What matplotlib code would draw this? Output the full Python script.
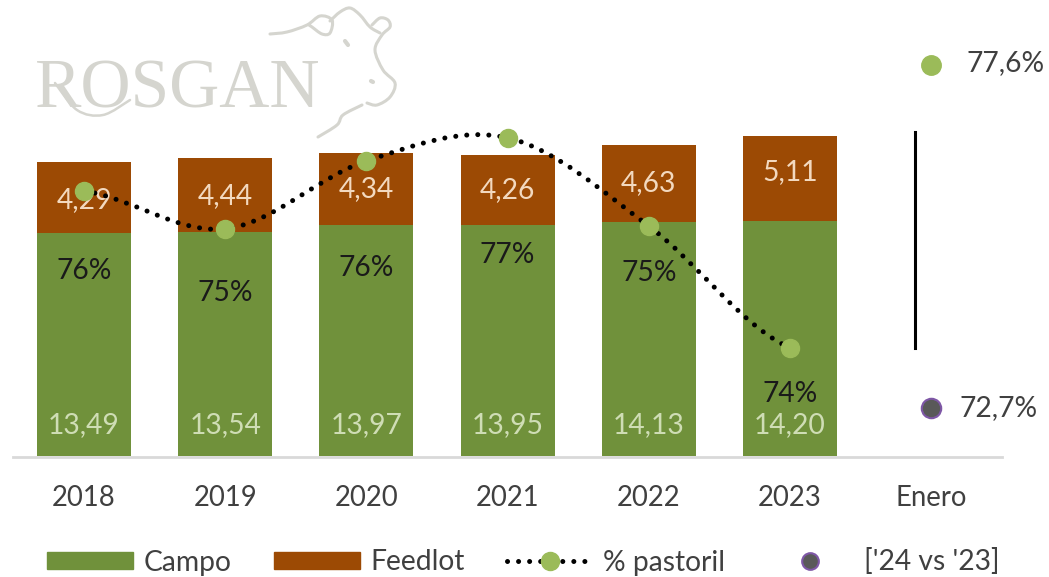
import matplotlib
matplotlib.use("Agg")
import matplotlib.pyplot as plt
from matplotlib.lines import Line2D
from matplotlib.patches import Patch, PathPatch
from matplotlib.path import Path
from matplotlib.transforms import Affine2D

W, H = 1049, 577
DARK = "#404040"
FS = 20.3

years = ["2018", "2019", "2020", "2021", "2022", "2023"]
tick_labels = years + ["Enero"]
campo = [13.49, 13.54, 13.97, 13.95, 14.13, 14.20]
feedlot = [4.29, 4.44, 4.34, 4.26, 4.63, 5.11]
pastoril = [75.8, 75.26, 76.23, 76.56, 75.3, 73.56]
pct_labels = ["76%", "75%", "76%", "77%", "75%", "74%"]
# label heights on the left scale
pct_label_y = [11.2, 9.85, 11.35, 12.15, 11.05, 3.75]
feedlot_label_shift = [-0.15, -0.05, 0, 0, 0.05, 0.4]
enero_top = 77.6
enero_bottom = 72.7

plt.rcParams["font.family"] = ["Lato", "DejaVu Sans"]

fig = plt.figure(figsize=(W / 100, H / 100), dpi=100)
ax = fig.add_axes([13.4 / W, (H - 456) / H, 988.4 / W, 456 / H])
ax.patch.set_alpha(0)
x = list(range(len(years)))
width = 94 / 141.2
ax.bar(x, campo, width, color="#70913B")
ax.bar(x, feedlot, width, bottom=campo, color="#9C4A04")
ax.set_xlim(-0.5, 6.5)
ax.set_ylim(0, 27.55)
ax.set_yticks([])
ax.set_xticks(range(len(tick_labels)), tick_labels)
ax.tick_params(axis="x", length=0, pad=21, labelsize=19.8, labelcolor=DARK)
for s in ["top", "left", "right", "bottom"]:
    ax.spines[s].set_visible(False)
ax.plot([-0.5, 6.5], [-0.05, -0.05], color="#D9D9D9", lw=2, clip_on=False, zorder=1)

for i in x:
    ax.text(i, 1.9, f"{campo[i]:.2f}".replace(".", ","), ha="center", va="center",
            color="#CFDDB5", fontsize=FS)
    ax.text(i, campo[i] + feedlot[i] / 2 + feedlot_label_shift[i],
            f"{feedlot[i]:.2f}".replace(".", ","), ha="center", va="center",
            color="#F3D9BF", fontsize=FS)
    ax.text(i, pct_label_y[i], pct_labels[i], ha="center", va="center",
            color="#1A1A1A", fontsize=FS)

ax2 = ax.twinx()
ax2.set_ylim(72.014, 78.53)
ax2.axis("off")

# smoothed line like the spreadsheet draws it
verts = [(x[0], pastoril[0])]
codes = [Path.MOVETO]
for i in range(len(x) - 1):
    y0 = pastoril[max(i - 1, 0)]
    y1 = pastoril[i]
    y2 = pastoril[i + 1]
    y3 = pastoril[min(i + 2, len(x) - 1)]
    verts += [(i + 1 / 3, y1 + (y2 - y0) / 6), (i + 2 / 3, y2 - (y3 - y1) / 6), (i + 1, y2)]
    codes += [Path.CURVE4] * 3
ax2.add_patch(PathPatch(Path(verts, codes), fill=False, edgecolor="black", lw=3.6,
                        linestyle=(0, (0.01, 2.2)), capstyle="round"))
ax2.plot(x, pastoril, ls="none", marker="o", ms=13, mfc="#9BBB59", mec="#9BBB59")

ax2.plot([5.885, 5.885], [76.65, 73.56], color="black", lw=2.2)
ax2.plot([6], [enero_top], ls="none", marker="o", ms=14, mfc="#9BBB59", mec="#9BBB59")
ax2.plot([6], [enero_bottom], ls="none", marker="o", ms=14, mfc="#595959", mec="#7E57A6", mew=1.5)
ax2.text(6.25, enero_top + 0.03, "77,6%", va="center", color=DARK, fontsize=FS)
ax2.text(6.2, enero_bottom, "72,7%", va="center", color=DARK, fontsize=FS)

# logo watermark, in pixels from the top left corner
LOGO = "#D5D5CF"
px = Affine2D().scale(1, -1).translate(0, H)
fig.text(35 / W, (H - 107) / H, "ROSGAN", family="Liberation Serif", fontsize=50,
         color=LOGO, ha="left", va="baseline")


def logo_curve(pts, lw=2.2):
    verts = [pts[0]]
    codes = [Path.MOVETO]
    for i in range(len(pts) - 1):
        p0 = pts[max(i - 1, 0)]
        p1 = pts[i]
        p2 = pts[i + 1]
        p3 = pts[min(i + 2, len(pts) - 1)]
        verts += [(p1[0] + (p2[0] - p0[0]) / 6, p1[1] + (p2[1] - p0[1]) / 6),
                  (p2[0] - (p3[0] - p1[0]) / 6, p2[1] - (p3[1] - p1[1]) / 6), p2]
        codes += [Path.CURVE4] * 3
    fig.add_artist(PathPatch(Path(verts, codes), fill=False, edgecolor=LOGO, lw=lw,
                             capstyle="round", transform=px))


logo_curve([(270, 34), (287, 32), (307, 25), (320, 16), (332, 20), (330, 33), (322, 34), (312, 27), (309, 25)])
logo_curve([(330, 21), (340, 12), (350, 8), (360, 15), (370, 27), (380, 33)])
logo_curve([(372, 25), (380, 18), (388, 20), (390, 27), (382, 35), (375, 50), (383, 70), (395, 83), (390, 97), (377, 105), (367, 103)])
logo_curve([(362, 105), (343, 115), (337, 125), (318, 137)])
logo_curve([(55, 83), (77, 110), (103, 115), (130, 100)], lw=1.8)
logo_curve([(345, 41), (348, 45)], lw=3)
logo_curve([(371, 81), (373, 82)], lw=3)

handles = [
    Patch(color="#70913B", label="Campo"),
    Patch(color="#9C4A04", label="Feedlot"),
    Line2D([], [], color="black", lw=3.6, linestyle=(0, (0.01, 2.2)), dash_capstyle="round",
           marker="o", ms=13, mfc="#9BBB59", mec="#9BBB59", label="% pastoril"),
    Line2D([], [], ls="none", marker="o", ms=12, mfc="#595959", mec="#7E57A6", mew=1.5,
           label="['24 vs '23]"),
]
fig.legend(handles=handles, ncol=4, frameon=False, loc="center left",
           bbox_to_anchor=(47 / W, (H - 562) / H), borderaxespad=0, borderpad=0,
           fontsize=FS, labelcolor=DARK, handlelength=3.05, handleheight=0.5,
           handletextpad=0.37, columnspacing=1.5)

fig.savefig("out.png", dpi=100)
